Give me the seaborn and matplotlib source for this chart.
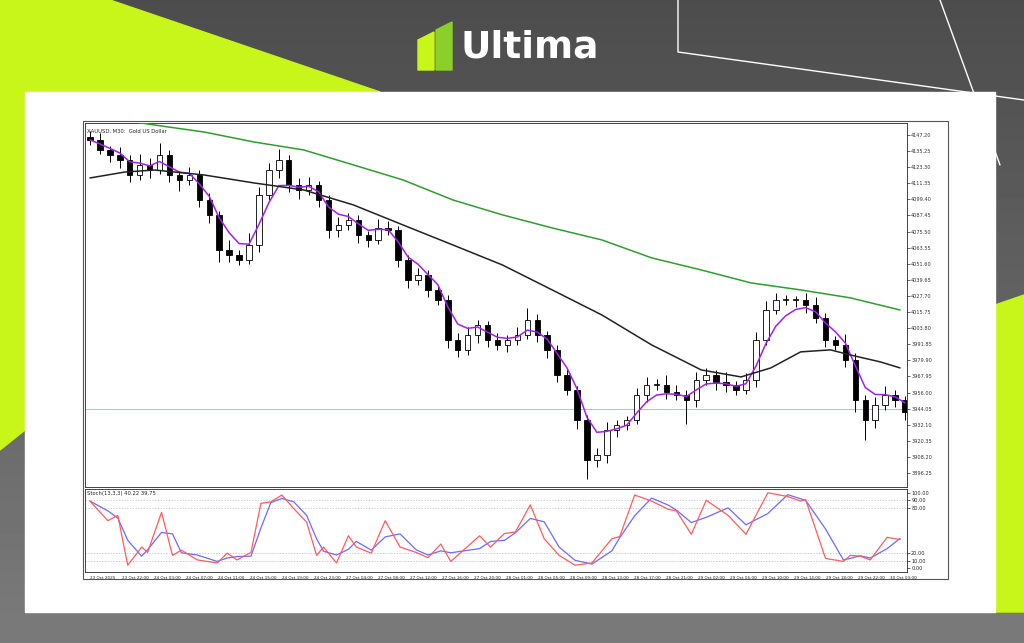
import matplotlib
matplotlib.use("Agg")
import matplotlib.pyplot as plt
import seaborn as sns
import numpy as np
import pandas as pd
from matplotlib.patches import Polygon, Rectangle

sns.set_style("white")
plt.rcParams['font.family'] = ['DejaVu Sans']

closes = [4143.5,4136.1,4132.4,4128.6,4117.5,4124.9,4121.2,4132.4,4117.5,4113.8,4117.5,4099.0,4087.8,4061.9,4058.1,4054.4,
          4065.6,4102.7,4121.2,4128.6,4110.1,4106.4,4110.1,4099.0,4076.7,4080.4,4084.1,4073.0,4069.3,4078.2,4076.7,4054.4,
          4039.6,4043.3,4032.1,4024.7,3995.1,3987.6,3998.8,4006.2,3995.1,3991.3,3995.1,3998.8,4010.0,3998.8,3987.6,3969.1,
          3957.9,3935.7,3906.0,3909.7,3928.3,3932.0,3935.7,3954.2,3961.7,3961.7,3956.5,3954.2,3950.5,3965.4,3969.1,3963.9,
          3961.7,3957.9,3965.4,3995.1,4017.3,4024.7,4024.7,4024.7,4021.0,4011.4,3995.1,3991.3,3980.2,3950.5,3935.7,3946.8,
          3954.2,3950.5,3941.6]
opens = [4146.0] + closes[:-1]
high_wick = [4,5,3,6,4,8,5,9,4,3,6,4,5,3,7,4,9,6,5,8,4,5,6,3,4,6,5,4,3,7,5,3,4,5,4,3,4,5,6,4,3,5,4,6,9,4,3,4,5,3,4,5,6,4,3,
             5,6,4,7,5,4,6,5,4,7,3,5,6,7,5,4,3,5,6,4,3,8,5,4,6,7,4,3]
low_wick = [4,3,5,6,5,4,6,3,5,8,4,5,6,9,5,4,3,5,4,6,5,7,4,5,6,5,4,6,5,3,4,5,6,4,5,4,6,5,4,6,5,4,5,4,3,5,6,5,4,7,14,5,
            6,5,4,3,5,4,5,4,18,5,4,6,5,4,3,5,4,3,4,5,6,4,5,4,5,9,15,6,4,5,6]

green_idx = [0, 6.5, 11.5, 16.5, 21.5, 26.5, 31.5, 36.5, 41.5, 46.5, 51.5, 56.5, 61.5, 66.5, 71.5, 76.5, 81.5]
green_ma = [4162.0, 4154.6, 4149.4, 4142.0, 4136.1, 4125.0, 4113.8, 4099.0, 4087.9, 4078.2, 4069.3, 4056.0, 4047.0,
            4037.4, 4032.2, 4026.3, 4017.3]
black_idx = [0, 3.5, 6.5, 11.5, 16.5, 21.5, 26.5, 31.5, 36.5, 41.5, 46.5, 51.5, 56.5, 61.5, 65.5, 68.5, 71.5, 74.5,
             76.5, 79.5, 81.5]
black_ma = [4115.3, 4119.7, 4121.2, 4117.5, 4111.6, 4106.4, 4095.3, 4080.4, 4065.6, 4050.7, 4032.2, 4013.6, 3991.4,
            3972.8, 3967.6, 3974.3, 3986.2, 3987.7, 3983.9, 3978.8, 3974.3]

stoch_x = [0,1.8,2.8,3.8,5.2,5.8,7.2,8.3,9.2,10.8,12.8,13.8,14.8,16.2,17.2,18.2,19.3,20.5,21.8,22.8,23.5,24.8,26,26.8,
           28.3,29.7,31.2,32.8,34,35.3,36.3,39.2,40.3,41.7,42.8,44.3,45.7,47.2,48.8,50.5,52.5,53.3,54.8,56.5,58.2,59,60.5,
           62,64.2,66,68.2,70.2,71.5,72,74,75.8,76.5,77.5,78.5,80.2,81.5]
stoch_k = [89,63,70,4,28,21,74,17,24,11,7,20,11,21,86,88,97,79,61,17,28,7,43,28,20,63,28,21,14,32,9,43,28,46,48,84,39,
           17,4,7,39,42,97,89,78,76,45,90,70,45,100,95,89,91,13,9,17,16,11,41,38]
stoch_d = list(pd.Series(stoch_k).rolling(2, min_periods=1).mean())

y_labels = ["4147.20","4135.25","4123.30","4111.35","4099.40","4087.45","4075.50","4063.55","4051.60","4039.65","4027.70",
            "4015.75","4003.80","3991.85","3979.90","3967.95","3956.00","3944.05","3932.10","3920.35","3908.20","3896.25"]
x_labels = ["23 Oct 2025","23 Oct 22:00","24 Oct 03:00","24 Oct 07:00","24 Oct 11:00","24 Oct 15:00","24 Oct 19:00",
            "24 Oct 23:00","27 Oct 04:00","27 Oct 08:00","27 Oct 12:00","27 Oct 16:00","27 Oct 20:00","28 Oct 01:00",
            "28 Oct 05:00","28 Oct 09:00","28 Oct 13:00","28 Oct 17:00","28 Oct 21:00","29 Oct 02:00","29 Oct 06:00",
            "29 Oct 10:00","29 Oct 14:00","29 Oct 18:00","29 Oct 22:00","30 Oct 03:00"]
current_price = 3944.05

W, H = 1024, 643
fig = plt.figure(figsize=(W/100, H/100), dpi=100)
bg = fig.add_axes([0, 0, 1, 1]); bg.set_xlim(0, W); bg.set_ylim(H, 0); bg.axis("off")
grad = np.linspace(0, 1, 100)[:, None]
bg.imshow(0.30 + 0.18*grad, cmap="gray", vmin=0, vmax=1, extent=[0, W, H, 0], aspect="auto")
lime = "#c8f51a"
bg.add_patch(Polygon([[0,0],[110,0],[380,92],[25,92],[25,430],[0,450]], color=lime))
bg.add_patch(Polygon([[1024,295],[995,305],[995,612],[1024,612]], color=lime))
bg.plot([678,678,1024],[0,52,100], color="white", lw=1)
bg.plot([940,1000],[0,165], color="white", lw=1)
bg.add_patch(Rectangle((25,92), 970, 520, color="white"))
bg.add_patch(Polygon([[418,40],[434,32],[434,70],[418,70]], color=lime))
bg.add_patch(Polygon([[436,30],[452,22],[452,70],[436,70]], color="#8ccf2a"))
bg.text(460, 48, "Ultima", color="white", fontsize=27, fontweight="bold", va="center", ha="left")
bg.add_patch(Rectangle((83,121), 865, 458, fill=False, ec="#555", lw=0.8))

n = len(closes)
x = np.arange(n)
ax = fig.add_axes([85/W, 1-487/H, 822/W, 364/H])
hi = [max(o, c) + w for o, c, w in zip(opens, closes, high_wick)]
lo = [min(o, c) - w for o, c, w in zip(opens, closes, low_wick)]
ax.vlines(x, lo, hi, color="black", lw=0.7, zorder=2)
bull = [c >= o for o, c in zip(opens, closes)]
bottoms = [min(o, c) for o, c in zip(opens, closes)]
heights = [max(abs(c - o), 0.4) for o, c in zip(opens, closes)]
ax.bar(x, heights, bottom=bottoms, width=0.55, color=["white" if b else "black" for b in bull],
       edgecolor="black", lw=0.6, zorder=3)
purple = pd.Series(closes).ewm(span=4, adjust=False).mean()
sns.lineplot(x=x, y=purple, ax=ax, color="#a020f0", lw=1.1, zorder=4)
sns.lineplot(x=black_idx, y=black_ma, ax=ax, color="#222", lw=1.1, zorder=4)
sns.lineplot(x=green_idx, y=green_ma, ax=ax, color="#2e9e2e", lw=1.1, zorder=4)
ax.axhline(current_price, color="#e8a0e8", lw=0.7, zorder=1)
ax.set_xlim(-0.5, 82.2); ax.set_ylim(3885.9, 4156.1)
ax.set_xticks([])
ytv = [float(v) for v in y_labels]
ax.yaxis.tick_right(); ax.set_yticks(ytv); ax.set_yticklabels(y_labels, fontsize=3.6, color="#333")
ax.tick_params(axis="y", length=2, width=0.5, pad=1)
for s in ax.spines.values(): s.set_linewidth(0.6)
ax.set_ylabel("")
ax.text(0.003, 0.985, "XAUUSD, M30:  Gold US Dollar", transform=ax.transAxes, fontsize=3.8, va="top")

ax2 = fig.add_axes([85/W, 1-572/H, 822/W, 83/H])
for lv in [90, 80, 20, 10]:
    ax2.axhline(lv, color="#bbb", lw=0.5, ls=(0, (2, 2)))
sns.lineplot(x=stoch_x, y=stoch_d, ax=ax2, color="#6b6bff", lw=0.9)
sns.lineplot(x=stoch_x, y=stoch_k, ax=ax2, color="#ff5c5c", lw=0.9)
ax2.set_xlim(-0.5, 82.2); ax2.set_ylim(-5, 105)
ax2.yaxis.tick_right(); ax2.set_yticks([100, 90, 80, 20, 10, 0])
ax2.set_yticklabels(["100.00","90.00","80.00","20.00","10.00","0.00"], fontsize=3.6)
ax2.tick_params(axis="y", length=2, width=0.5, pad=1)
ax2.set_xticks([i * 3.22 for i in range(len(x_labels))])
ax2.set_xticklabels(x_labels, fontsize=3.0, ha="left")
ax2.tick_params(axis="x", length=2, width=0.5, pad=1)
for s in ax2.spines.values(): s.set_linewidth(0.6)
ax2.text(0.003, 0.97, "Stoch(13,3,3) 40.22 39.75", transform=ax2.transAxes, fontsize=3.8, va="top")

fig.savefig("out.png", dpi=100)
